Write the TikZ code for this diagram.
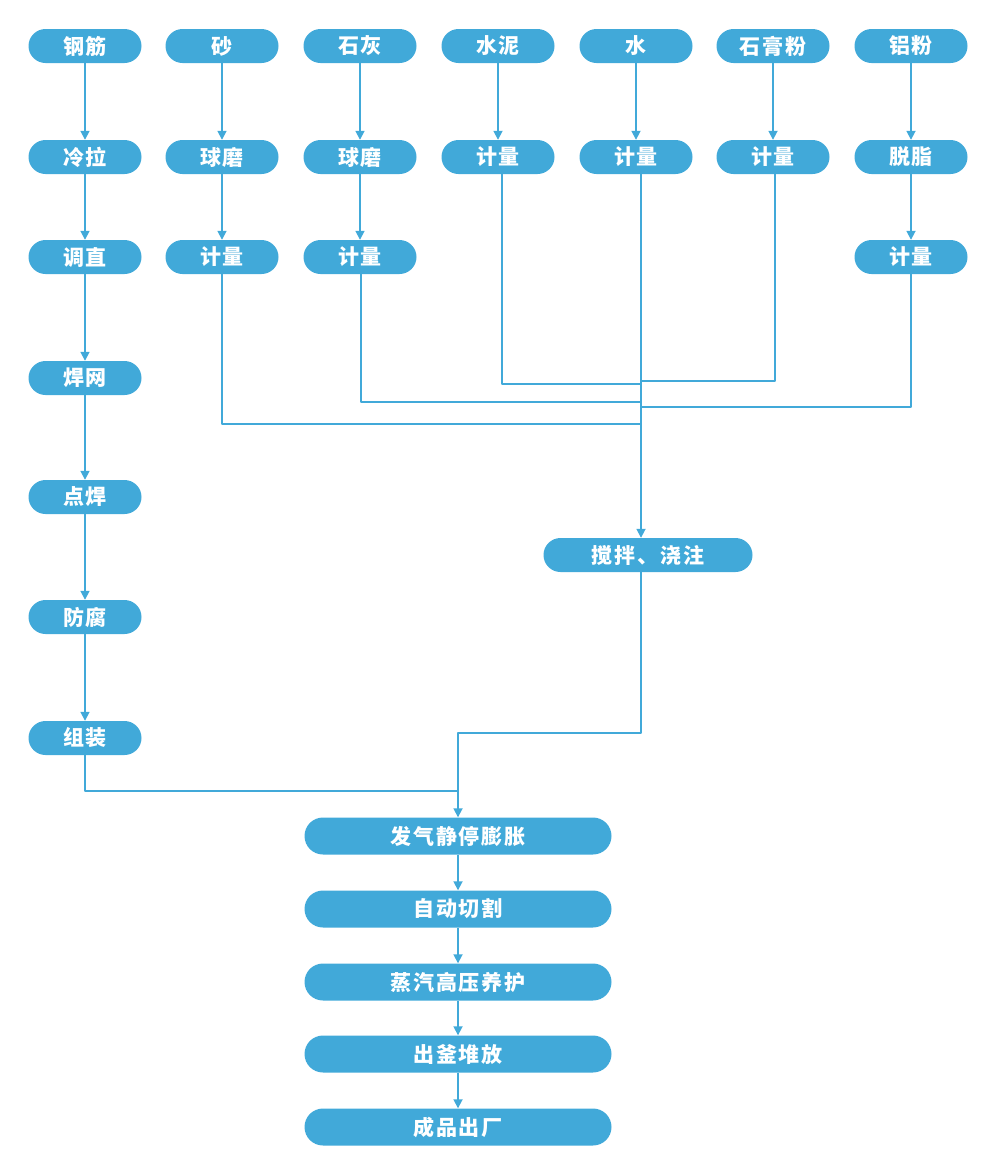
\documentclass[tikz,border=0pt]{standalone}
\usepackage{fontspec}
\setmainfont{Noto Sans CJK SC}[LetterSpace=9]
\usetikzlibrary{arrows.meta}
\definecolor{flowblue}{HTML}{41A9D9}
\begin{document}
\begin{tikzpicture}[x=1pt,y=-1pt,>={Triangle[width=9pt,length=9pt]},line join=round,
		proc/.style={fill=flowblue,text=white,font=\fontsize{21}{21}\selectfont\bfseries,rounded corners=17pt,minimum width=113pt,minimum height=34pt,inner sep=0pt},
		wide/.style={proc,minimum width=307pt,minimum height=37pt,rounded corners=18.5pt},
		link/.style={draw=flowblue,line width=1.7pt}]
	\useasboundingbox (0,0) rectangle (984,1160);
	% raw materials
	\foreach \name/\txt/\x in {gj/钢筋/85,sha/砂/222,shh/石灰/360,sn/水泥/498,shui/水/636,sgf/石膏粉/773,lf/铝粉/911}
		\node [proc] (\name) at (\x,46) {\txt};
	\node [proc] (ll) at (gj |- 0,157) {冷拉};
	\node [proc] (qm1) at (sha |- 0,157) {球磨};
	\node [proc] (qm2) at (shh |- 0,157) {球磨};
	\node [proc] (jl4) at (sn |- 0,157) {计量};
	\node [proc] (jl5) at (shui |- 0,157) {计量};
	\node [proc] (jl6) at (sgf |- 0,157) {计量};
	\node [proc] (tz) at (lf |- 0,157) {脱脂};
	\node [proc] (tzh) at (gj |- 0,257) {调直};
	\node [proc] (jl2) at (sha |- 0,257) {计量};
	\node [proc] (jl3) at (shh |- 0,257) {计量};
	\node [proc] (jl7) at (lf |- 0,257) {计量};
	\node [proc] (hw) at (gj |- 0,378) {焊网};
	\node [proc] (dh) at (gj |- 0,497) {点焊};
	\node [proc] (ff) at (gj |- 0,617) {防腐};
	\node [proc] (zz) at (gj |- 0,738) {组装};
	\node [proc,minimum width=209pt] (mix) at (648,555) {搅拌、浇注};
	% main line
	\node [wide] (fq) at (458,836) {发气静停膨胀};
	\node [wide] (qg) at (458,909) {自动切割};
	\node [wide] (zq) at (458,982) {蒸汽高压养护};
	\node [wide] (cf) at (458,1054) {出釜堆放};
	\node [wide] (cp) at (458,1127) {成品出厂};
	\foreach \a/\b in {gj/ll,ll/tzh,tzh/hw,hw/dh,dh/ff,ff/zz,sha/qm1,qm1/jl2,shh/qm2,qm2/jl3,sn/jl4,shui/jl5,sgf/jl6,lf/tz,tz/jl7,fq/qg,qg/zq,zq/cf,cf/cp}
		\draw [link,->] (\a) -- (\b);
	% collecting lines
	\coordinate (trunk) at ([xshift=5pt]jl5.south);
	\draw [link,->] (trunk) -- (trunk |- mix.north);
	\draw [link] ([xshift=4pt]jl4.south) |- (trunk |- 0,384);
	\draw [link] ([xshift=2pt]jl6.south) |- (trunk |- 0,381);
	\draw [link] ([xshift=1pt]jl3.south) |- (trunk |- 0,402);
	\draw [link] (jl7.south) |- (trunk |- 0,407);
	\draw [link] (jl2.south) |- (trunk |- 0,424);
	\draw [link,->] (trunk |- mix.south) -- (trunk |- 0,733) -| (fq.north);
	\draw [link] (zz.south) |- (fq.north |- 0,791);
\end{tikzpicture}
\end{document}
